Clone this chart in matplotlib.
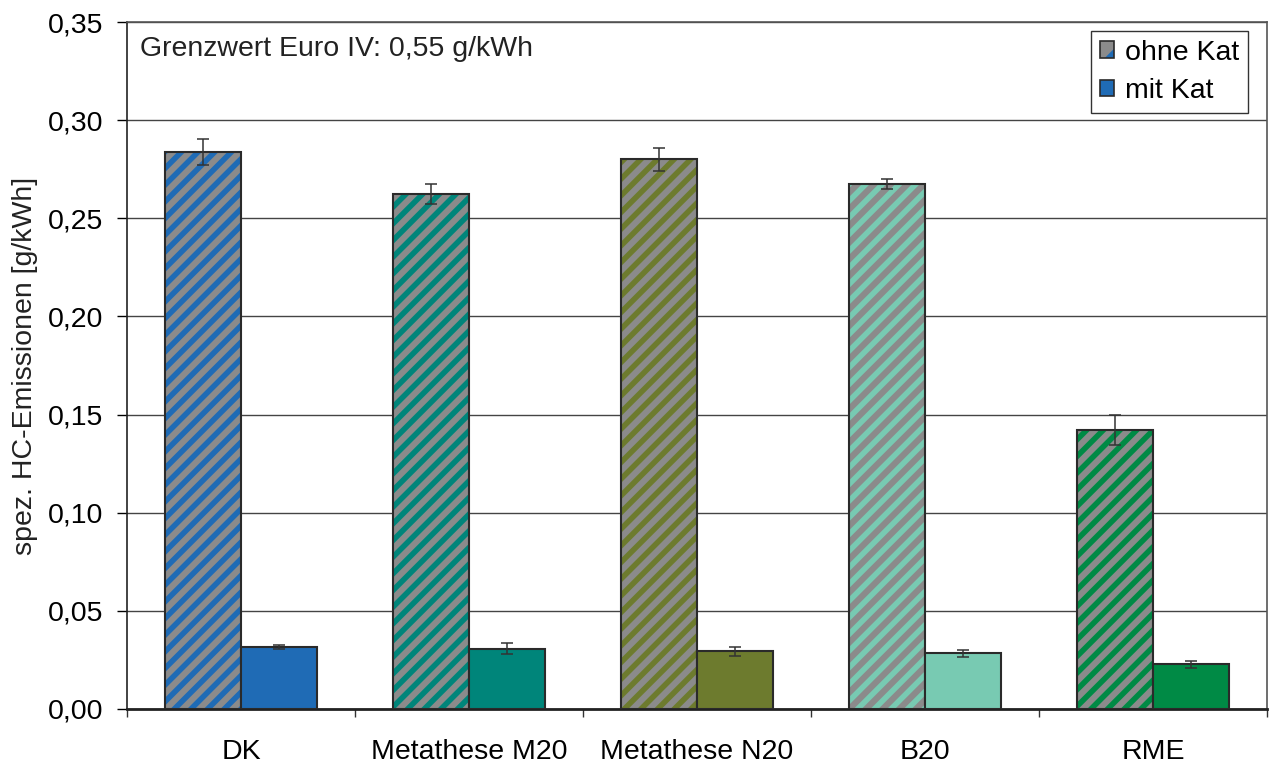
import matplotlib
matplotlib.use("Agg")
import matplotlib.pyplot as plt
import numpy as np
from matplotlib.patches import Patch
from matplotlib.legend_handler import HandlerTuple

categories = ["DK", "Metathese M20", "Metathese N20", "B20", "RME"]
ohne_kat = [0.2838, 0.2624, 0.2800, 0.2676, 0.1421]
ohne_err = [0.0068, 0.0050, 0.0060, 0.0025, 0.0075]
mit_kat = [0.0314, 0.0308, 0.0293, 0.0284, 0.0227]
mit_err = [0.0010, 0.0026, 0.0022, 0.0018, 0.0020]
colors = ["#1f6bb5", "#00857a", "#6d7b2e", "#78cab2", "#008a45"]
yticks = [0.0, 0.05, 0.10, 0.15, 0.20, 0.25, 0.30, 0.35]
ytick_labels = ["0,00", "0,05", "0,10", "0,15", "0,20", "0,25", "0,30", "0,35"]

plt.rcParams['font.family'] = ['Liberation Sans', 'DejaVu Sans']
plt.rcParams['hatch.linewidth'] = 4.0

FS = 20.5
fig = plt.figure(figsize=(12.69, 7.65), dpi=100)
ax = fig.add_axes([127/1269, 1 - 709/765, (1267 - 127)/1269, (709 - 22)/765])

x = np.arange(len(categories))
w = 1/3
gray = "#8b8b8b"
edge = "#2a2a2a"

for i in range(len(categories)):
    # hatched "ohne Kat"
    ax.bar(x[i] - w/2, ohne_kat[i], width=w, color=gray, edgecolor=colors[i],
           hatch='//', linewidth=0, zorder=2)
    ax.bar(x[i] - w/2, ohne_kat[i], width=w, facecolor='none', edgecolor=edge,
           linewidth=1.5, zorder=3)
    ax.bar(x[i] + w/2, mit_kat[i], width=w, color=colors[i], edgecolor=edge,
           linewidth=1.5, zorder=3)

ax.errorbar(x - w/2, ohne_kat, yerr=ohne_err, fmt='none', ecolor='#333333',
            elinewidth=1.1, capsize=4.5, capthick=1.1, zorder=4)
ax.errorbar(x + w/2, mit_kat, yerr=mit_err, fmt='none', ecolor='#333333',
            elinewidth=1.1, capsize=4.5, capthick=1.1, zorder=4)

ax.set_xlim(-0.5, len(categories) - 0.5)
ax.set_ylim(0, 0.35)
ax.set_yticks(yticks)
ax.set_yticklabels(ytick_labels, fontsize=FS)
ax.set_xticks(x)
ax.set_xticklabels(categories, fontsize=FS)
ax.set_xticks(np.arange(len(categories) + 1) - 0.5, minor=True)
ax.tick_params(axis='x', which='major', length=0, pad=21.5)
ax.tick_params(axis='x', which='minor', length=6, width=1, color='#333333', direction='out')
ax.tick_params(axis='y', length=7, width=1, direction='out', pad=10)

ax.yaxis.grid(True, color='#444444', linewidth=1.0, zorder=0)
ax.set_axisbelow(True)
for s in ['top', 'right']:
    ax.spines[s].set_color('#555555')
    ax.spines[s].set_linewidth(1.2)
ax.spines['left'].set_color('#222222')
ax.spines['left'].set_linewidth(1.2)
ax.spines['bottom'].set_color('#222222')
ax.spines['bottom'].set_linewidth(2.0)

fig.text(25/1269, 1 - 366/765, "spez. HC-Emissionen [g/kWh]", fontsize=FS,
         rotation=90, ha='center', va='center', color='#222222')

ax.text(0.011, (709 - 36)/687, "Grenzwert Euro IV: 0,55 g/kWh", transform=ax.transAxes,
        fontsize=FS, va='top', ha='left', color='#222222')

h1 = (Patch(facecolor=gray, edgecolor=colors[0], hatch='/', linewidth=0),
      Patch(facecolor='none', edgecolor=edge, linewidth=1.2))
h2 = Patch(facecolor=colors[0], edgecolor=edge, linewidth=1.2)
leg = ax.legend([h1, h2], ["ohne Kat", "mit Kat"], loc='upper right',
                bbox_to_anchor=((1248 - 127)/1140, (709 - 31)/687), borderaxespad=0,
                fontsize=FS,
                handler_map={tuple: HandlerTuple(ndivide=1)},
                handlelength=0.5, handleheight=0.5, handletextpad=0.4,
                labelspacing=0.45, borderpad=0.3, fancybox=False,
                edgecolor='#333333', framealpha=1)
leg.get_frame().set_linewidth(1.0)

fig.savefig("out.png", dpi=100)
